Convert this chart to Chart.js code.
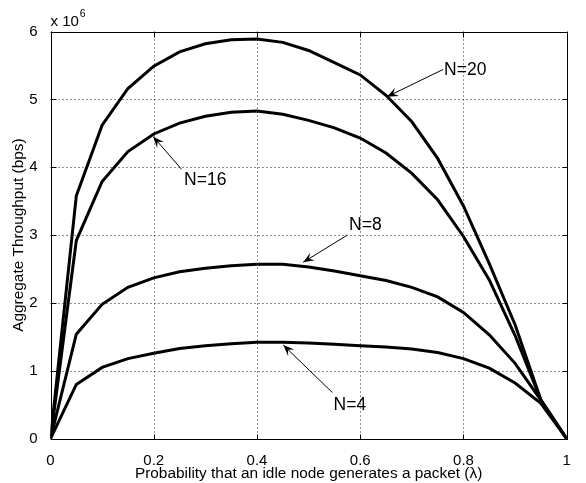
<!DOCTYPE html>
<html>
<head>
<meta charset="utf-8">
<script src="https://cdn.jsdelivr.net/npm/chart.js@4.4.0/dist/chart.umd.min.js"></script>
<style>
  html, body { margin: 0; padding: 0; background: #fff; }
  #wrap { width: 586px; height: 483px; position: relative; }
</style>
</head>
<body>
<div id="wrap"><canvas id="chart"></canvas></div>
<script>
// Данные (throughput в единицах 10^6 bps)
const lambdaValues = [0, 0.05, 0.1, 0.15, 0.2, 0.25, 0.3, 0.35, 0.4, 0.45, 0.5,
                      0.55, 0.6, 0.65, 0.7, 0.75, 0.8, 0.85, 0.9, 0.95, 1];
const thrN20 = [0, 3.58, 4.62, 5.16, 5.49, 5.70, 5.82, 5.88, 5.89, 5.84, 5.72,
                5.54, 5.36, 5.06, 4.67, 4.13, 3.43, 2.58, 1.68, 0.57, 0];
const thrN16 = [0, 2.92, 3.79, 4.23, 4.49, 4.65, 4.75, 4.81, 4.83, 4.78, 4.69,
                4.58, 4.43, 4.21, 3.91, 3.52, 2.98, 2.34, 1.52, 0.57, 0];
const thrN8 = [0, 1.54, 1.98, 2.23, 2.37, 2.46, 2.51, 2.55, 2.57, 2.57, 2.53,
               2.47, 2.40, 2.33, 2.23, 2.09, 1.86, 1.53, 1.11, 0.57, 0];
const thrN4 = [0, 0.80, 1.05, 1.18, 1.26, 1.33, 1.37, 1.40, 1.42, 1.42, 1.41,
               1.39, 1.37, 1.35, 1.32, 1.27, 1.18, 1.04, 0.82, 0.52, 0];

const xTicks = [0, 0.2, 0.4, 0.6, 0.8, 1];
const yTicks = [0, 1, 2, 3, 4, 5, 6];
const xTitle = 'Probability that an idle node generates a packet (\u03bb)';
const yTitle = 'Aggregate Throughput (bps)';

// Подписи кривых со стрелками (координаты в единицах данных)
const curveLabels = [
  { text: 'N=20', at: [0.8035, 5.43], from: [0.7605, 5.44], to: [0.652, 5.04] },
  { text: 'N=16', at: [0.2997, 3.81], from: [0.254, 3.97], to: [0.199, 4.45] },
  { text: 'N=8',  at: [0.610, 3.15],  from: [0.575, 3.00], to: [0.4895, 2.60] },
  { text: 'N=4',  at: [0.580, 0.49],  from: [0.546, 0.68], to: [0.451, 1.38] }
];

const FONT = '"Liberation Sans", Arial, Helvetica, sans-serif';

function series(values) {
  return values.map((v, i) => ({ x: lambdaValues[i], y: v }));
}

function lineDataset(label, values) {
  return {
    label: label,
    data: series(values),
    borderColor: '#000',
    borderWidth: 3,
    pointRadius: 0,
    tension: 0,
    fill: false
  };
}

// Пунктирная сетка под линиями
const gridPlugin = {
  id: 'dottedGrid',
  beforeDatasetsDraw(chart) {
    const { ctx, chartArea: a, scales } = chart;
    ctx.save();
    ctx.strokeStyle = '#222';
    ctx.lineWidth = 1;
    ctx.setLineDash([1, 3]);
    ctx.beginPath();
    xTicks.forEach(v => {
      const px = Math.round(scales.x.getPixelForValue(v)) + 0.5;
      ctx.moveTo(px, a.top); ctx.lineTo(px, a.bottom);
    });
    yTicks.forEach(v => {
      const py = Math.round(scales.y.getPixelForValue(v)) + 0.5;
      ctx.moveTo(a.left, py); ctx.lineTo(a.right, py);
    });
    ctx.stroke();
    ctx.restore();
  }
};

// Рамка, внутренние засечки, стрелки и множитель оси
const decorPlugin = {
  id: 'decor',
  afterDatasetsDraw(chart) {
    const { ctx, chartArea: a, scales } = chart;
    const xs = scales.x, ys = scales.y;
    ctx.save();
    ctx.strokeStyle = '#000';
    ctx.lineWidth = 1;
    const L = Math.round(a.left) + 0.5, R = Math.round(a.right) + 0.5;
    const T = Math.round(a.top) + 0.5, B = Math.round(a.bottom) + 0.5;
    ctx.strokeRect(L, T, R - L, B - T);

    const tl = 5;
    ctx.beginPath();
    xTicks.forEach(v => {
      const px = Math.round(xs.getPixelForValue(v)) + 0.5;
      ctx.moveTo(px, B); ctx.lineTo(px, B - tl);
      ctx.moveTo(px, T); ctx.lineTo(px, T + tl);
    });
    yTicks.forEach(v => {
      const py = Math.round(ys.getPixelForValue(v)) + 0.5;
      ctx.moveTo(L, py); ctx.lineTo(L + tl, py);
      ctx.moveTo(R, py); ctx.lineTo(R - tl, py);
    });
    ctx.stroke();

    // стрелки
    curveLabels.forEach(l => {
      const x1 = xs.getPixelForValue(l.from[0]), y1 = ys.getPixelForValue(l.from[1]);
      const x2 = xs.getPixelForValue(l.to[0]), y2 = ys.getPixelForValue(l.to[1]);
      ctx.beginPath();
      ctx.moveTo(x1, y1); ctx.lineTo(x2, y2);
      ctx.stroke();
      const ang = Math.atan2(y2 - y1, x2 - x1);
      const len = 11, half = 4.5;
      const bx = x2 - len * Math.cos(ang), by = y2 - len * Math.sin(ang);
      const nx = -Math.sin(ang), ny = Math.cos(ang);
      const cx = x2 - len * 0.6 * Math.cos(ang), cy = y2 - len * 0.6 * Math.sin(ang);
      ctx.beginPath();
      ctx.moveTo(x2, y2);
      ctx.lineTo(bx + nx * half, by + ny * half);
      ctx.lineTo(cx, cy);
      ctx.lineTo(bx - nx * half, by - ny * half);
      ctx.closePath();
      ctx.fillStyle = '#000';
      ctx.fill();

      ctx.font = '17.5px ' + FONT;
      ctx.textAlign = 'center';
      ctx.textBaseline = 'middle';
      ctx.fillText(l.text, xs.getPixelForValue(l.at[0]), ys.getPixelForValue(l.at[1]));
    });

    // множитель x 10^6
    ctx.textAlign = 'left';
    ctx.textBaseline = 'alphabetic';
    ctx.font = '15px ' + FONT;
    ctx.fillText('x 10', a.left, a.top - 6);
    const w = ctx.measureText('x 10').width;
    ctx.font = '10.5px ' + FONT;
    ctx.fillText('6', a.left + w + 1, a.top - 15);
    ctx.restore();
  }
};

new Chart(document.getElementById('chart'), {
  type: 'line',
  data: {
    datasets: [
      lineDataset('N=20', thrN20),
      lineDataset('N=16', thrN16),
      lineDataset('N=8', thrN8),
      lineDataset('N=4', thrN4)
    ]
  },
  options: {
    responsive: true,
    maintainAspectRatio: false,
    animation: false,
    events: [],
    layout: { padding: { top: 31.5, right: 19.3, left: 0, bottom: 0 } },
    plugins: {
      legend: { display: false },
      tooltip: { enabled: false }
    },
    scales: {
      x: {
        type: 'linear',
        min: 0,
        max: 1,
        afterBuildTicks: s => { s.ticks = xTicks.map(v => ({ value: v })); },
        afterFit: s => { s.height = 44.3; },
        ticks: {
          color: '#000',
          font: { family: FONT, size: 15 },
          padding: 5,
          maxRotation: 0,
          callback: v => (v === 0 || v === 1) ? String(v) : v.toFixed(1)
        },
        grid: { display: false },
        border: { display: false },
        title: {
          display: true,
          text: xTitle,
          color: '#000',
          font: { family: FONT, size: 15.4 },
          padding: { top: 0, bottom: 0 }
        }
      },
      y: {
        type: 'linear',
        min: 0,
        max: 6,
        afterBuildTicks: s => { s.ticks = yTicks.map(v => ({ value: v })); },
        afterFit: s => { s.width = 50.5; },
        ticks: {
          color: '#000',
          font: { family: FONT, size: 15 },
          padding: 5,
          callback: v => String(v)
        },
        grid: { display: false },
        border: { display: false },
        title: {
          display: true,
          text: yTitle,
          color: '#000',
          font: { family: FONT, size: 15.4 },
          padding: { top: 10, bottom: 0 }
        }
      }
    }
  },
  plugins: [gridPlugin, decorPlugin]
});
</script>
</body>
</html>
